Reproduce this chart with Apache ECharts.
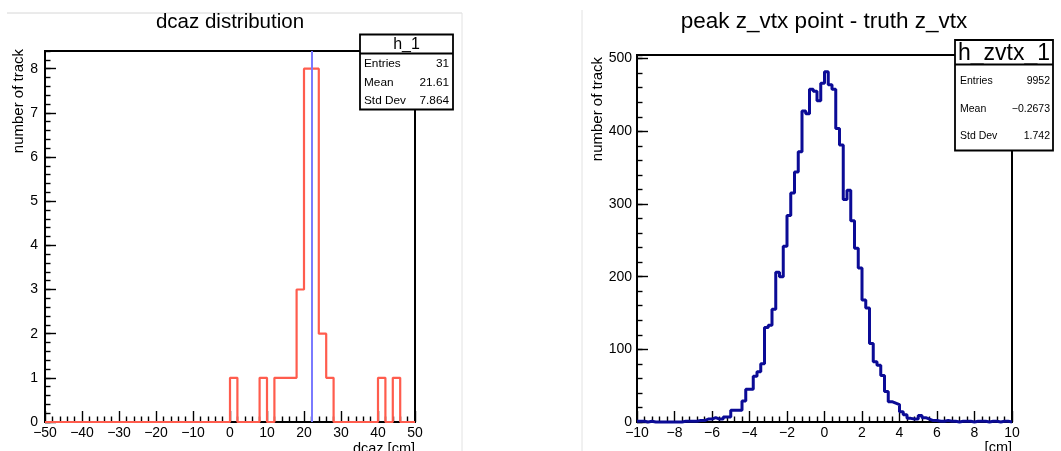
<!DOCTYPE html>
<html><head><meta charset="utf-8">
<script src="https://cdn.jsdelivr.net/npm/echarts@6/dist/echarts.min.js"></script>
<style>html,body{margin:0;padding:0;background:#fff}#c{width:1061px;height:451px}</style>
</head><body><div id="c"></div>
<script>
const FONT = "'Liberation Sans', Arial, Helvetica, sans-serif";

// ---- left histogram: dcaz (50 bins of 2 cm from -50 to 50)
const dcazMin = -50;
const dcazBinWidth = 2;
const dcazCounts = [
  0,0,0,0,0,0,0,0,0,0,
  0,0,0,0,0,0,0,0,0,0,
  0,0,0,0,0,1,0,0,0,1,
  0,1,1,1,3,8,8,2,1,0,
  0,0,0,0,0,1,0,1,0,0
];
const dcazMarker = 22.1;
const dcazStatValues = ['31', '21.61', '7.864'];

// ---- right histogram: z_vtx difference (100 bins of 0.2 cm from -10 to 10)
const zMin = -10;
const zBinWidth = 0.2;
const zCounts = [
  1,1,0,1,0,0,0,0,0,0,
  0,0,1,1,1,1,2,2,4,4,
  6,4,4,7,7,16,16,16,29,45,
  45,63,69,80,130,133,155,206,200,242,
  284,315,344,372,428,424,458,455,442,466,
  482,464,458,404,381,306,319,277,239,212,
  168,157,108,83,78,64,42,28,26,24,
  14,10,5,4,4,9,6,4,2,2,
  1,1,2,1,1,0,1,1,1,0,
  1,1,1,0,1,1,0,1,1,0
];
const zStatValues = ['9952', '\u22120.2673', '1.742'];
const statLabels = ['Entries', 'Mean', 'Std Dev'];

function stepData(min, w, counts) {
  const pts = counts.map((c, k) => [min + k * w, c]);
  pts.push([min + counts.length * w, counts[counts.length - 1]]);
  return pts;
}
const minusFmt = v => String(Math.round(v * 1000) / 1000).replace('-', '\u2212');

function xAx(grid, min, max, interval) {
  return {
    type: 'value', gridIndex: grid, min, max, interval,
    axisLine: { show: true, onZero: false, lineStyle: { color: '#000', width: 2 } },
    axisTick: { show: true, inside: true, length: 11, lineStyle: { color: '#000', width: 1.4 } },
    minorTick: { show: true, splitNumber: 5, length: 5.5, lineStyle: { color: '#000', width: 1.4 } },
    splitLine: { show: false }, minorSplitLine: { show: false },
    axisLabel: { color: '#000', fontSize: 14, fontFamily: FONT, margin: 4, formatter: minusFmt }
  };
}
function yAx(grid, min, max, interval, major, margin) {
  return {
    type: 'value', gridIndex: grid, min, max, interval, position: 'left',
    axisLine: { show: major, onZero: false, lineStyle: { color: '#000', width: 2 } },
    axisTick: { show: true, inside: true, length: major ? 11 : 5.5, lineStyle: { color: '#000', width: 1.4 } },
    splitLine: { show: false },
    axisLabel: { show: major, showMaxLabel: false, color: '#000', fontSize: 14, fontFamily: FONT, margin: margin, formatter: minusFmt }
  };
}

function statBox(x, y, w, hHead, h, title, titleSize, labels, values, textSize, rowYs, padL, padR) {
  const els = [
    { type: 'rect', z: 100, shape: { x, y, width: w, height: h }, style: { fill: '#fff', stroke: '#000', lineWidth: 1.8 } },
    { type: 'line', z: 101, shape: { x1: x, y1: y + hHead, x2: x + w, y2: y + hHead }, style: { stroke: '#000', lineWidth: 1.8 } },
    { type: 'text', z: 102, x: x + w / 2, y: y + hHead / 2 + 1, style: { text: title, font: titleSize + 'px ' + FONT, fill: '#000', textAlign: 'center', textVerticalAlign: 'middle' } }
  ];
  labels.forEach((l, i) => {
    els.push({ type: 'text', z: 102, x: x + padL, y: rowYs[i], style: { text: l, font: textSize + 'px ' + FONT, fill: '#000', textAlign: 'left', textVerticalAlign: 'middle' } });
    els.push({ type: 'text', z: 102, x: x + w - padR, y: rowYs[i], style: { text: values[i], font: textSize + 'px ' + FONT, fill: '#000', textAlign: 'right', textVerticalAlign: 'middle' } });
  });
  return els;
}

const chart = echarts.init(document.getElementById('c'), null, { renderer: 'canvas' });
const graphics = [
  { type: 'line', shape: { x1: 7, y1: 13, x2: 462, y2: 13 }, style: { stroke: '#d6d6d6', lineWidth: 1 } },
  { type: 'line', shape: { x1: 462, y1: 13, x2: 462, y2: 451 }, style: { stroke: '#e2e2e2', lineWidth: 1 } },
  { type: 'line', shape: { x1: 582, y1: 10, x2: 582, y2: 451 }, style: { stroke: '#e2e2e2', lineWidth: 1 } },
  { type: 'text', x: 230, y: 22, style: { text: 'dcaz distribution', font: '20.5px ' + FONT, fill: '#000', textAlign: 'center', textVerticalAlign: 'middle' } },
  { type: 'text', x: 824, y: 22, style: { text: 'peak z_vtx point - truth z_vtx', font: '22.5px ' + FONT, fill: '#000', textAlign: 'center', textVerticalAlign: 'middle' } },
  { type: 'text', x: 19, y: 49, rotation: Math.PI / 2, style: { text: 'number of track', font: '15px ' + FONT, fill: '#000', textAlign: 'right', textVerticalAlign: 'middle' } },
  { type: 'text', x: 598, y: 57, rotation: Math.PI / 2, style: { text: 'number of track', font: '15px ' + FONT, fill: '#000', textAlign: 'right', textVerticalAlign: 'middle' } },
  { type: 'text', x: 415, y: 441, style: { text: 'dcaz [cm]', font: '14.5px ' + FONT, fill: '#000', textAlign: 'right', textVerticalAlign: 'top' } },
  { type: 'text', x: 1012, y: 440, style: { text: '[cm]', font: '14.5px ' + FONT, fill: '#000', textAlign: 'right', textVerticalAlign: 'top' } }
].concat(
  statBox(360, 34.5, 93, 19, 75, 'h_1', 16, statLabels, dcazStatValues, 11.8, [64, 82.5, 101], 4, 4),
  statBox(955, 40, 98, 24.5, 110.5, 'h_zvtx_1', 23, statLabels, zStatValues, 10.5, [81.5, 109, 136.5], 5, 3)
);

chart.setOption({
  animation: false,
  backgroundColor: '#fff',
  grid: [
    { left: 45, top: 51, width: 370, height: 371, show: true, borderColor: '#000', borderWidth: 2, backgroundColor: 'transparent' },
    { left: 637, top: 55, width: 375, height: 367, show: true, borderColor: '#000', borderWidth: 2, backgroundColor: 'transparent' }
  ],
  xAxis: [ xAx(0, -50, 50, 10), xAx(1, -10, 10, 2) ],
  yAxis: [
    yAx(0, 0, 8.4, 1, true, 7),
    yAx(0, 0, 8.4, 0.2, false, 7),
    yAx(1, 0, 505, 100, true, 5),
    yAx(1, 0, 505, 20, false, 5)
  ],
  series: [
    {
      type: 'line', xAxisIndex: 0, yAxisIndex: 0, step: 'end', showSymbol: false, clip: false,
      data: stepData(dcazMin, dcazBinWidth, dcazCounts),
      lineStyle: { color: '#ff5c4d', width: 2.2 }, z: 3,
      markLine: {
        silent: true, symbol: ['none', 'none'], label: { show: false },
        lineStyle: { color: '#7a7aff', width: 2, type: 'solid' },
        data: [{ xAxis: dcazMarker }]
      }
    },
    {
      type: 'line', xAxisIndex: 1, yAxisIndex: 2, step: 'end', showSymbol: false, clip: false,
      data: stepData(zMin, zBinWidth, zCounts),
      lineStyle: { color: '#0b0b96', width: 3 }, z: 3
    }
  ],
  graphic: graphics
});
</script>
</body></html>
